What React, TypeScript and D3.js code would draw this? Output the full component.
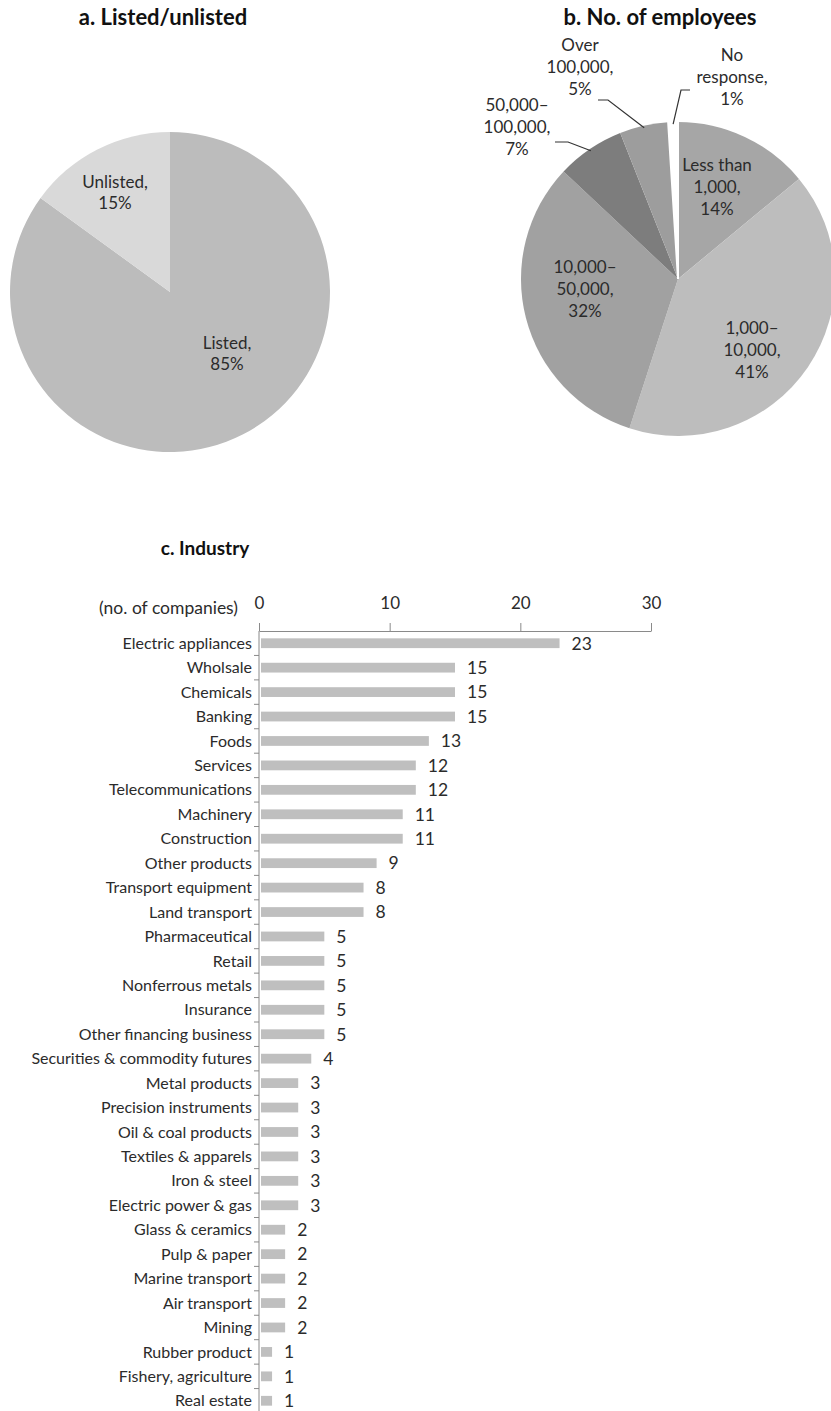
import * as d3 from "d3";
import { useEffect, useRef } from "react";

// a. Listed/unlisted
const listedLabels = ["Listed", "Unlisted"];
const listedValues = [85, 15];
const listedColors = ["#bcbcbc", "#d9d9d9"];

// b. No. of employees
const employeeLabels = [
  ["Less than", "1,000,", "14%"],
  ["1,000–", "10,000,", "41%"],
  ["10,000–", "50,000,", "32%"],
  ["50,000–", "100,000,", "7%"],
  ["Over", "100,000,", "5%"],
  ["No", "response,", "1%"],
];
const employeeValues = [14, 41, 32, 7, 5, 1];
const employeeColors = ["#a6a6a6", "#bdbdbd", "#a1a1a1", "#7d7d7d", "#9d9d9d", "#ffffff"];

// c. Industry
const industries = [
  "Electric appliances", "Wholsale", "Chemicals", "Banking", "Foods", "Services",
  "Telecommunications", "Machinery", "Construction", "Other products",
  "Transport equipment", "Land transport", "Pharmaceutical", "Retail",
  "Nonferrous metals", "Insurance", "Other financing business",
  "Securities & commodity futures", "Metal products", "Precision instruments",
  "Oil & coal products", "Textiles & apparels", "Iron & steel",
  "Electric power & gas", "Glass & ceramics", "Pulp & paper", "Marine transport",
  "Air transport", "Mining", "Rubber product", "Fishery, agriculture", "Real estate",
];
const companies = [23, 15, 15, 15, 13, 12, 12, 11, 11, 9, 8, 8, 5, 5, 5, 5, 5, 4, 3, 3, 3, 3, 3, 3, 2, 2, 2, 2, 2, 1, 1, 1];
const xTicks = [0, 10, 20, 30];

const FONT = "Lato, 'Open Sans', sans-serif";
const TXT = "#2b2b2b";

export default function App() {
  const svgRef = useRef<SVGSVGElement>(null);
  const width = 831;
  const height = 1411;

  useEffect(() => {
    const svg = d3.select(svgRef.current);
    svg.selectAll("*").remove();

    const title = (x: number, y: number, t: string, size: number) =>
      svg.append("text").attr("x", x).attr("y", y).attr("text-anchor", "middle")
        .attr("font-family", FONT).attr("font-weight", 700).attr("font-size", size)
        .attr("fill", "#111").text(t);

    const multiline = (g: any, x: number, y: number, lines: string[], lh: number, size: number) => {
      const t = g.append("text").attr("text-anchor", "middle").attr("font-family", FONT)
        .attr("font-size", size).attr("fill", TXT);
      lines.forEach((l, i) =>
        t.append("tspan").attr("x", x).attr("y", y + i * lh).text(l));
    };

    // ---- pie a
    title(163, 25, "a. Listed/unlisted", 22);
    const pie = d3.pie<number>().sort(null).value((d) => d);
    const ra = 160;
    const ga = svg.append("g").attr("transform", "translate(170,292)");
    const arcA = d3.arc<d3.PieArcDatum<number>>().innerRadius(0).outerRadius(ra);
    ga.selectAll("path").data(pie(listedValues)).enter().append("path")
      .attr("d", arcA).attr("fill", (_d, i) => listedColors[i]);
    const aLabelPos = [[57, 57], [-55, -104]];
    pie(listedValues).forEach((d, i) => {
      multiline(ga, aLabelPos[i][0], aLabelPos[i][1],
        [listedLabels[i] + ",", d.data + "%"], 21, 17);
    });

    // ---- pie b
    title(660, 25, "b. No. of employees", 22);
    const rb = 157;
    const cx = 678, cy = 279;
    const gb = svg.append("g").attr("transform", `translate(${cx},${cy})`);
    const arcB = d3.arc<d3.PieArcDatum<number>>().innerRadius(0).outerRadius(rb);
    const arcsB = pie(employeeValues);
    gb.selectAll("path").data(arcsB).enter().append("path")
      .attr("d", arcB).attr("fill", (_d, i) => employeeColors[i])
      .attr("stroke", (_d, i) => (i === 5 ? "#ffffff" : "none")).attr("stroke-width", 2);

    const bLabelPos = [[39, -108], [74, 55], [-93, -6], [-161, -168], [-98, -228], [54, -218]];
    arcsB.forEach((_d, i) => {
      multiline(gb, bLabelPos[i][0], bLabelPos[i][1], employeeLabels[i], 22, 17);
    });

    // leader lines for the small outer slices
    const edge = d3.arc<d3.PieArcDatum<number>>().innerRadius(rb - 2).outerRadius(rb - 2);
    const leaders: { i: number; from: [number, number]; knee: [number, number] }[] = [
      { i: 3, from: [-123, -137], knee: [-110, -137] },
      { i: 4, from: [-80, -179], knee: [-70, -179] },
      { i: 5, from: [12, -189], knee: [3, -189] },
    ];
    leaders.forEach((l) => {
      const [ex, ey] = edge.centroid(arcsB[l.i]);
      gb.append("polyline")
        .attr("points", `${l.from[0]},${l.from[1]} ${l.knee[0]},${l.knee[1]} ${ex},${ey}`)
        .attr("fill", "none").attr("stroke", "#333").attr("stroke-width", 1.2);
    });

    // ---- bar chart c
    title(205, 555, "c. Industry", 19);
    const axisY = 631;
    const x = d3.scaleLinear().domain([0, 30]).range([259, 651]);
    const y = d3.scaleBand().domain(industries).range([axisY, axisY + 782])
      .paddingInner(0.6).paddingOuter(0.3);
    const axisColor = "#8a8a8a";

    const gx = svg.append("g").attr("transform", `translate(0,${axisY})`)
      .call(d3.axisTop(x).tickValues(xTicks).tickSize(8).tickPadding(14).tickSizeOuter(0));
    gx.select(".domain").attr("stroke", axisColor);
    gx.selectAll(".tick line").attr("stroke", axisColor);
    gx.selectAll(".tick text").attr("font-family", FONT).attr("font-size", 17).attr("fill", TXT);

    svg.append("text").attr("x", 238).attr("y", 614).attr("text-anchor", "end")
      .attr("font-family", FONT).attr("font-size", 17.5).attr("fill", TXT)
      .text("(no. of companies)");

    // vertical category axis
    svg.append("line").attr("x1", x(0)).attr("x2", x(0)).attr("y1", axisY).attr("y2", height)
      .attr("stroke", axisColor);
    const step = y.step();
    industries.slice(1).forEach((c) => {
      const yy = (y(c) as number) + y.bandwidth() / 2 - step / 2;
      svg.append("line").attr("x1", x(0) - 5).attr("x2", x(0)).attr("y1", yy).attr("y2", yy)
        .attr("stroke", axisColor);
    });

    svg.append("g").selectAll("rect").data(companies).enter().append("rect")
      .attr("x", x(0) + 2)
      .attr("y", (_d, i) => y(industries[i]) as number)
      .attr("width", (d) => x(d) - x(0) - 2)
      .attr("height", y.bandwidth())
      .attr("fill", "#bfbfbf");

    svg.append("g").selectAll("text.val").data(companies).enter().append("text")
      .attr("x", (d) => x(d) + 12)
      .attr("y", (_d, i) => (y(industries[i]) as number) + y.bandwidth() / 2)
      .attr("dy", "0.36em").attr("font-family", FONT).attr("font-size", 17.5).attr("fill", TXT)
      .text((d) => d);

    svg.append("g").selectAll("text.cat").data(industries).enter().append("text")
      .attr("x", 252)
      .attr("y", (d) => (y(d) as number) + y.bandwidth() / 2)
      .attr("dy", "0.35em").attr("text-anchor", "end").attr("font-family", FONT)
      .attr("font-size", 16).attr("fill", TXT)
      .text((d) => d);
  }, []);

  return (
    <div style={{ position: "absolute", left: 0, top: 0 }}>
      <svg ref={svgRef} width={width} height={height} style={{ display: "block" }} />
    </div>
  );
}
